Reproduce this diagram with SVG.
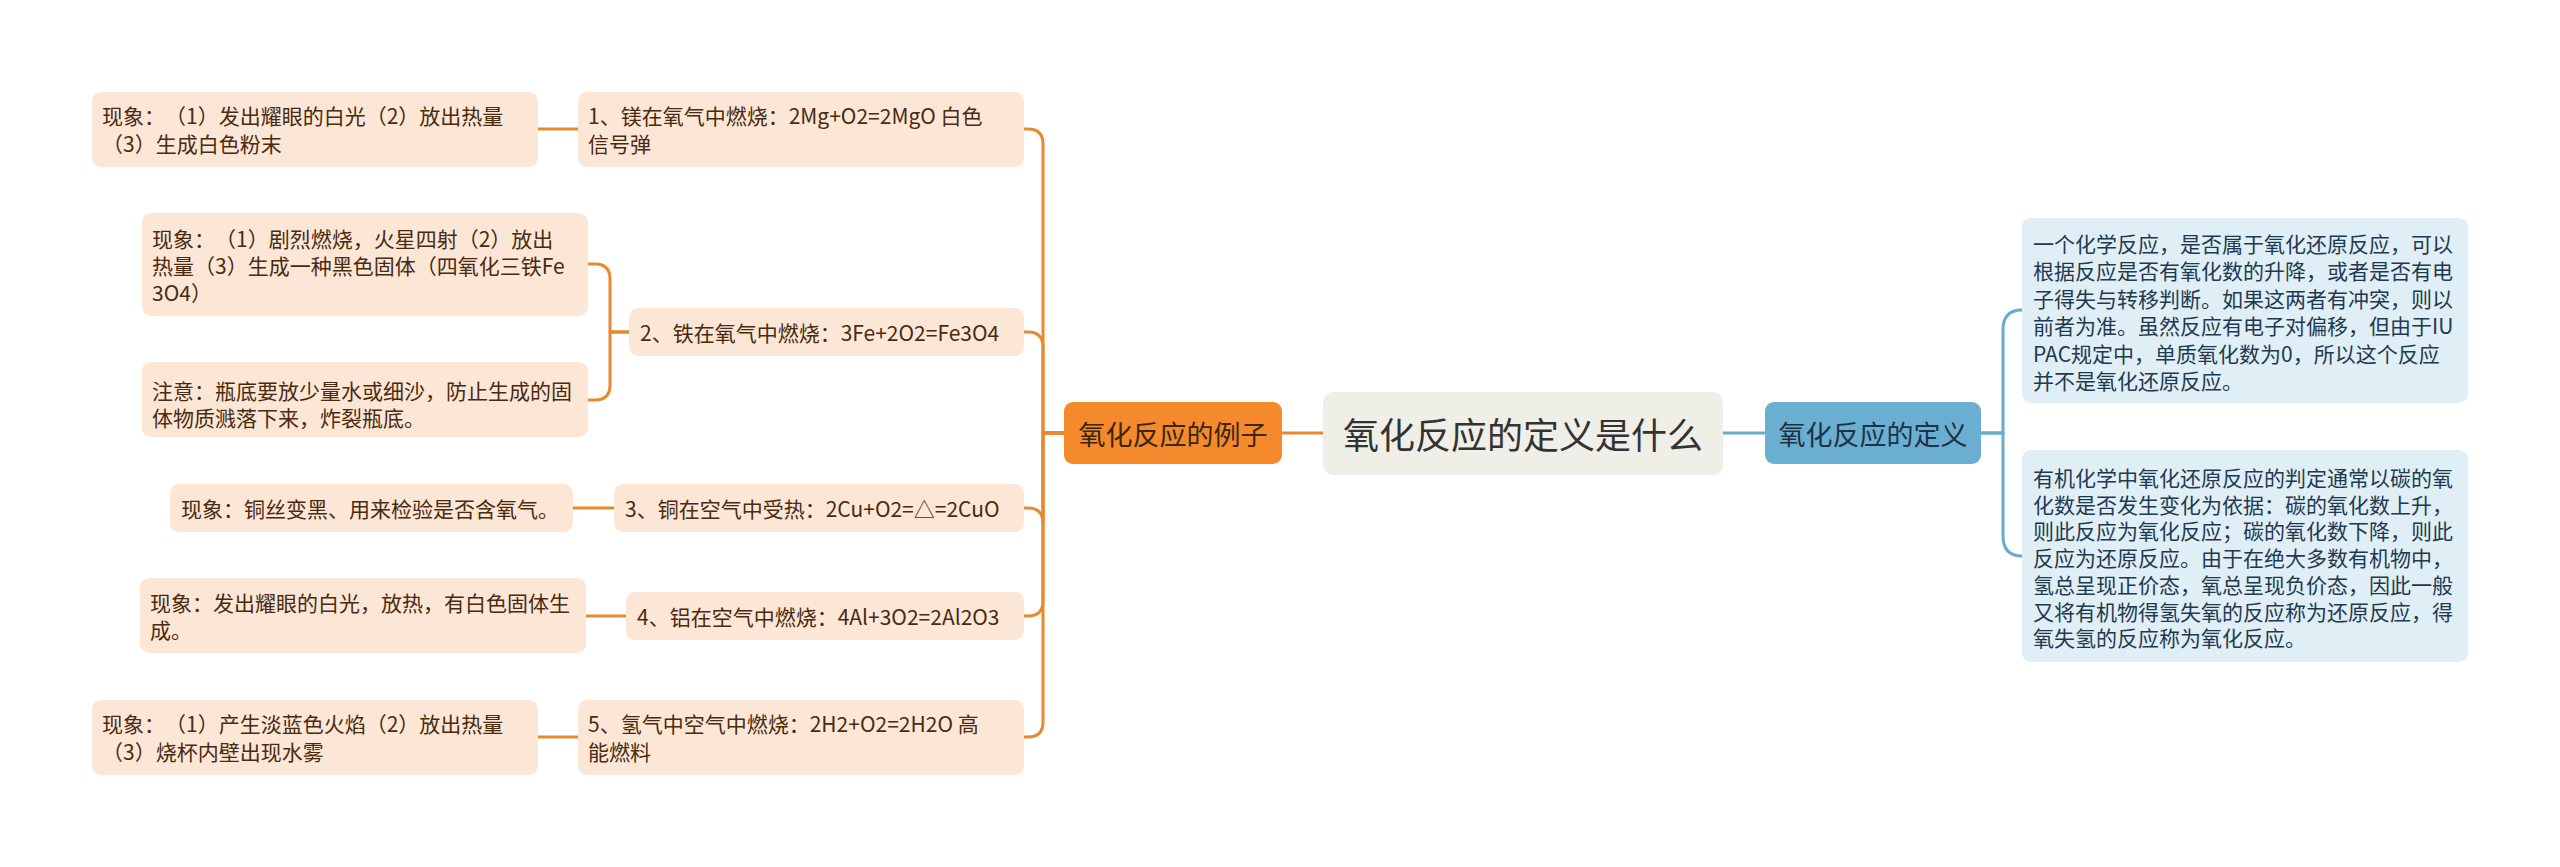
<svg xmlns="http://www.w3.org/2000/svg" width="2560" height="867" viewBox="0 0 2560 867">
<style>
text{font-family:"Noto Sans CJK SC","Noto Sans",sans-serif;dominant-baseline:central;text-spacing-trim:space-all}
.pe{fill:#FCE7D6}
.pt{font-size:21px;fill:#4A2A10}
.bl{fill:#E0EEF6}
.bt{font-size:21px;fill:#1E3A50}
.oc{fill:none;stroke:#E8892F;stroke-width:3;stroke-linecap:round;stroke-linejoin:round}
.bc{fill:none;stroke:#6AAACD;stroke-width:3;stroke-linecap:round;stroke-linejoin:round}
</style>
<rect width="2560" height="867" fill="#FFFFFF"/>
<g id="connectors">
<path class="oc" d="M1064,433 H1043 V144 Q1043,129 1028,129 H1024"/>
<path class="oc" d="M1064,433 H1043 V347 Q1043,332 1028,332 H1024"/>
<path class="oc" d="M1064,433 H1043 V523 Q1043,508 1028,508 H1024"/>
<path class="oc" d="M1064,433 H1043 V601 Q1043,616 1028,616 H1024"/>
<path class="oc" d="M1064,433 H1043 V722 Q1043,737 1028,737 H1024"/>
<path class="oc" d="M537,129 H578"/>
<path class="oc" d="M629,332 H610 V279 Q610,264 595,264 H588"/>
<path class="oc" d="M629,332 H610 V385 Q610,400 595,400 H588"/>
<path class="oc" d="M573,508 H614"/>
<path class="oc" d="M586,616 H626"/>
<path class="oc" d="M538,737 H578"/>
<path class="oc" d="M1282,433 H1323"/>
<path class="bc" d="M1723,433 H1765"/>
<path class="bc" d="M1981,433 H2003 V330 Q2003,310 2022,310"/>
<path class="bc" d="M1981,433 H2003 V536 Q2003,556 2022,556"/>
</g>
<g id="center">
<rect x="1323" y="392" width="400" height="83" rx="10" fill="#EFEFE7"/>
<text x="1523" y="433" font-size="36" fill="#333333" text-anchor="middle">氧化反应的定义是什么</text>
</g>
<g id="examples">
<rect x="1064" y="402" width="218" height="62" rx="9" fill="#F5892B"/>
<text x="1173" y="433" font-size="27" fill="#3A2612" text-anchor="middle">氧化反应的例子</text>
</g>
<g id="definition">
<rect x="1765" y="402" width="216" height="62" rx="9" fill="#6AAED2"/>
<text x="1873" y="433" font-size="27" fill="#1C3345" text-anchor="middle">氧化反应的定义</text>
</g>
<g id="n1">
<rect class="pe" x="578" y="92" width="446" height="75" rx="9"/>
<text class="pt" x="588" y="115">1、镁在氧气中燃烧：2Mg+O2=2MgO 白色</text>
<text class="pt" x="588" y="143">信号弹</text>
</g>
<g id="n1a">
<rect class="pe" x="92" y="92" width="446" height="75" rx="9"/>
<text class="pt" x="102" y="115">现象：（1）发出耀眼的白光（2）放出热量</text>
<text class="pt" x="102" y="143">（3）生成白色粉末</text>
</g>
<g id="n2">
<rect class="pe" x="629" y="308" width="395" height="48" rx="9"/>
<text class="pt" x="640" y="332">2、铁在氧气中燃烧：3Fe+2O2=Fe3O4</text>
</g>
<g id="n2a">
<rect class="pe" x="142" y="213" width="446" height="103" rx="9"/>
<text class="pt" x="152" y="238">现象：（1）剧烈燃烧，火星四射（2）放出</text>
<text class="pt" x="152" y="265">热量（3）生成一种黑色固体（四氧化三铁Fe</text>
<text class="pt" x="152" y="292">3O4）</text>
</g>
<g id="n2b">
<rect class="pe" x="142" y="362" width="446" height="75" rx="9"/>
<text class="pt" x="152" y="390">注意：瓶底要放少量水或细沙，防止生成的固</text>
<text class="pt" x="152" y="417">体物质溅落下来，炸裂瓶底。</text>
</g>
<g id="n3">
<rect class="pe" x="614" y="484" width="410" height="48" rx="9"/>
<text class="pt" x="625" y="508">3、铜在空气中受热：2Cu+O2=△=2CuO</text>
</g>
<g id="n3a">
<rect class="pe" x="170" y="484" width="403" height="48" rx="9"/>
<text class="pt" x="181" y="508">现象：铜丝变黑、用来检验是否含氧气。</text>
</g>
<g id="n4">
<rect class="pe" x="626" y="592" width="398" height="48" rx="9"/>
<text class="pt" x="637" y="616">4、铝在空气中燃烧：4Al+3O2=2Al2O3</text>
</g>
<g id="n4a">
<rect class="pe" x="140" y="578" width="446" height="75" rx="9"/>
<text class="pt" x="150" y="602">现象：发出耀眼的白光，放热，有白色固体生</text>
<text class="pt" x="150" y="629">成。</text>
</g>
<g id="n5">
<rect class="pe" x="578" y="700" width="446" height="75" rx="9"/>
<text class="pt" x="588" y="723">5、氢气中空气中燃烧：2H2+O2=2H2O 高</text>
<text class="pt" x="588" y="751">能燃料</text>
</g>
<g id="n5a">
<rect class="pe" x="92" y="700" width="446" height="75" rx="9"/>
<text class="pt" x="102" y="723">现象：（1）产生淡蓝色火焰（2）放出热量</text>
<text class="pt" x="102" y="751">（3）烧杯内壁出现水雾</text>
</g>
<g id="d1">
<rect class="bl" x="2022" y="218" width="446" height="185" rx="9"/>
<text class="bt" x="2033" y="243">一个化学反应，是否属于氧化还原反应，可以</text>
<text class="bt" x="2033" y="270.4">根据反应是否有氧化数的升降，或者是否有电</text>
<text class="bt" x="2033" y="297.8">子得失与转移判断。如果这两者有冲突，则以</text>
<text class="bt" x="2033" y="325.2">前者为准。虽然反应有电子对偏移，但由于IU</text>
<text class="bt" x="2033" y="352.6">PAC规定中，单质氧化数为0，所以这个反应</text>
<text class="bt" x="2033" y="380">并不是氧化还原反应。</text>
</g>
<g id="d2">
<rect class="bl" x="2022" y="450" width="446" height="212" rx="9"/>
<text class="bt" x="2033" y="477">有机化学中氧化还原反应的判定通常以碳的氧</text>
<text class="bt" x="2033" y="503.7">化数是否发生变化为依据：碳的氧化数上升，</text>
<text class="bt" x="2033" y="530.4">则此反应为氧化反应；碳的氧化数下降，则此</text>
<text class="bt" x="2033" y="557.1">反应为还原反应。由于在绝大多数有机物中，</text>
<text class="bt" x="2033" y="583.8">氢总呈现正价态，氧总呈现负价态，因此一般</text>
<text class="bt" x="2033" y="610.5">又将有机物得氢失氧的反应称为还原反应，得</text>
<text class="bt" x="2033" y="637.2">氧失氢的反应称为氧化反应。</text>
</g>
</svg>
